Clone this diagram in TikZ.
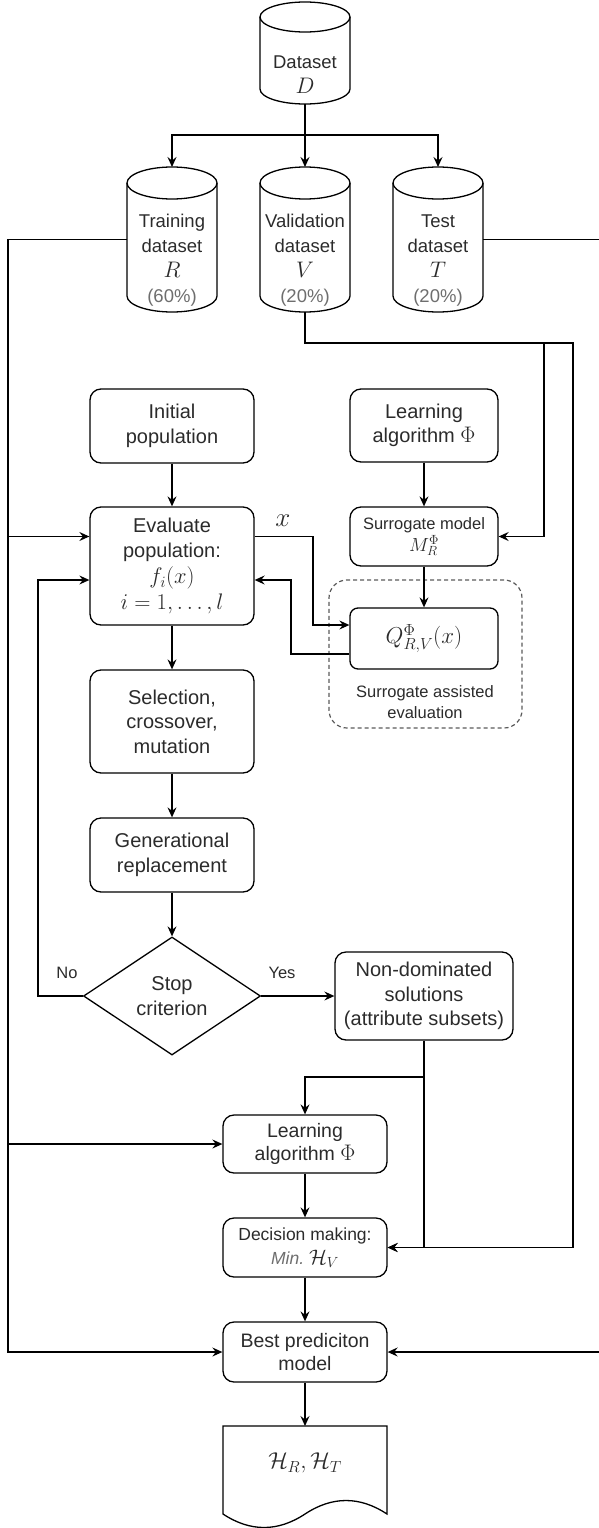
\RequirePackage{fix-cm}
\documentclass[tikz,border=0pt]{standalone}
\usepackage{fontspec}
\setmainfont{Liberation Sans}
\usetikzlibrary{arrows.meta,shapes.geometric,calc}
\definecolor{txt}{HTML}{2B2B2B}
\definecolor{pct}{HTML}{6E6E6E}
\definecolor{dashc}{HTML}{5A5A5A}
\newcommand\fmain{\fontsize{20}{24.5}\selectfont}
\newcommand\fmid{\fontsize{17.5}{21.5}\selectfont}
\newcommand\fsml{\fontsize{16.5}{21}\selectfont}
\newcommand\fcyl{\fontsize{18.5}{25}\selectfont}
\newcommand\mymath[1]{{\fontsize{22.5}{25}\selectfont$#1$}}
\newcommand\cylout[3]{%
  \draw ($(#1.north west)+(0,#3)$) -- ($(#1.south west)+(0,-#3)$)
     arc[start angle=180,end angle=360,x radius=#2pt,y radius=#3pt] -- ($(#1.north east)+(0,#3)$);
  \draw ($(#1.north)+(0,#3)$) ellipse[x radius=#2pt,y radius=#3pt];}
\begin{document}
\begin{tikzpicture}[x=1pt,y=-1pt, line width=1.3pt,
  every node/.style={text=txt, align=center, inner sep=0pt},
  box/.style={draw=black, rounded corners=11pt, minimum width=164pt, font=\fmain},
  cylnode/.style={minimum width=90pt, outer sep=0pt},
  arr/.style={-{Stealth[length=10pt,width=9pt,inset=3.5pt]}}]
\useasboundingbox (0,0) rectangle (598,1528);

% cylinders
\node[cylnode, minimum height=102pt] (D) at (305,53) {};
\node[cylnode, minimum height=145pt] (R) at (172,239.5) {};
\node[cylnode, minimum height=145pt] (V) at (305,239.5) {};
\node[cylnode, minimum height=145pt] (T) at (438,239.5) {};
\cylout{D}{45}{15}
\cylout{R}{45}{16}
\cylout{V}{45}{16}
\cylout{T}{45}{16}
\node[font=\fcyl] (Dl) at (305,74.5) {Dataset\\\mymath{D}};
\node[font=\fcyl] (Rl) at (172,260.5) {Training\\dataset\\\mymath{R}\\\textcolor{pct}{(60\%)}};
\node[font=\fcyl] (Vl) at (305,260.5) {Validation\\dataset\\\mymath{V}\\\textcolor{pct}{(20\%)}};
\node[font=\fcyl] (Tl) at (438,260.5) {Test\\dataset\\\mymath{T}\\\textcolor{pct}{(20\%)}};

% boxes
\node[box, minimum height=74pt] (init) at (172,426) {Initial\\population};
\node[box, minimum height=118pt] (eval) at (172,566) {Evaluate\\population:\\[2pt]\mymath{f_i(x)}\\[1pt]\mymath{i=1,\ldots,l}};
\node[box, minimum height=103pt] (sel) at (172,721.5) {Selection,\\crossover,\\mutation};
\node[box, minimum height=74pt] (gen) at (172,855) {Generational\\replacement};
\node[diamond, draw=black, minimum width=177pt, minimum height=118pt, aspect=1.5, font=\fmain] (stop) at (172,996) {Stop\\criterion};
\node[box, minimum width=178pt, minimum height=88pt] (nondom) at (424,996) {Non-dominated\\solutions\\(attribute subsets)};
\node[box, minimum width=148pt, minimum height=73pt] (learn1) at (424,425.5) {Learning\\algorithm \mymath{\Phi}};
\node[box, minimum width=148pt, minimum height=59pt, font=\fsml] (surr) at (424,536.5) {Surrogate model\\[1pt]{\fontsize{19}{21}\selectfont$M_R^{\Phi}$}};
\node[box, minimum width=148pt, minimum height=61pt, rounded corners=8pt, font=\fontsize{23}{26}\selectfont] (Q) at (424,638.5) {$Q^{\Phi}_{R,V}(x)$};
\node[draw=dashc, line width=1.2pt, dash pattern=on 4pt off 3pt, rounded corners=18pt, minimum width=193pt, minimum height=148pt] (sae) at (425.5,654) {};
\node[font=\fsml] (saelbl) at (425,702.5) {Surrogate assisted\\evaluation};
\node[box, minimum height=58pt, font=\fontsize{19.5}{22.5}\selectfont] (learn2) at (305,1144) {Learning\\algorithm \mymath{\Phi}};
\node[box, minimum height=59pt, font=\fmid] (dec) at (305,1247.5) {Decision making:\\[3pt]\textcolor{pct}{\itshape Min.}\ {\fontsize{21}{22}\selectfont$\mathcal{H}_V$}};
\node[box, minimum height=60pt, font=\fontsize{19.5}{23}\selectfont] (best) at (305,1352) {Best prediciton\\model};
\node[minimum width=164pt, minimum height=88pt, outer sep=0pt] (doc) at (305,1470) {};
\draw (doc.south west) -- (doc.north west) -- (doc.north east) -- (doc.south east)
  .. controls ($(doc.south east)+(-27.3,-18)$) and ($(doc.south)+(27.3,-18)$) .. (doc.south)
  .. controls ($(doc.south)+(-27.3,18)$) and ($(doc.south west)+(27.3,18)$) .. (doc.south west) -- cycle;
\node[font=\fontsize{23}{26}\selectfont] (docl) at (305,1463) {$\mathcal{H}_R, \mathcal{H}_T$};

% labels
\node[font=\fsml] (yes) at (282,973) {Yes};
\node[font=\fsml] (no) at (67,973) {No};
\node[font=\fontsize{27}{27}\selectfont] (xl) at (283,521) {$x$};

% dataset split
\coordinate (sp) at (305,135);
\draw (D.south) -- (sp);
\draw[arr] (sp) -| (R.north);
\draw[arr] (sp) -- (V.north);
\draw[arr] (sp) -| (T.north);

% left bus (training)
\coordinate (lbTop) at (8,239.5);
\draw[arr] (R.west) -- (lbTop) |- (best.west);
\draw[arr] (lbTop) |- (eval.west |- surr.west);
\draw[arr] (lbTop) |- (learn2.west);

% right bus (test)
\coordinate (rbTop) at (600,239.5);
\draw[arr] (T.east) -- (rbTop) |- (best.east);

% validation bus
\coordinate (vb) at (305,343);
\coordinate (vr1) at (544,343);
\coordinate (vr2) at (573,343);
\draw[arr] (V.south) -- (vb) -- (vr2) |- (dec.east);
\draw[arr] (vr1) |- (surr.east);

% main chain
\draw[arr] (init.south) -- (eval.north);
\draw[arr] (eval.south) -- (sel.north);
\draw[arr] (sel.south) -- (gen.north);
\draw[arr] (gen.south) -- (stop.north);
\draw[arr] (learn1.south) -- (surr.north);
\draw[arr] (surr.south) -- (Q.north);
\draw[arr] (stop.east) -- (nondom.west);
\draw[arr] (learn2.south) -- (dec.north);
\draw[arr] (dec.south) -- (best.north);
\draw[arr] (best.south) -- (doc.north);

% no loop
\coordinate (noL) at (38,996);
\draw[arr] (stop.west) -- (noL) |- ($(eval.west)+(0,14)$);

% x to surrogate evaluation and back
\coordinate (xc) at (313,536.5);
\draw[arr] (eval.east |- surr.west) -- (xc) |- ($(Q.west)+(0,-13.5)$);
\coordinate (rc) at (291,654);
\draw[arr] ($(Q.west)+(0,15.5)$) -- (rc) |- ($(eval.east)+(0,14)$);

% non-dominated to learning / decision
\coordinate (nd) at (424,1077);
\draw (nondom.south) -- (nd);
\draw[arr] (nd) |- (dec.east);
\draw[arr] (nd) -| (learn2.north);
\end{tikzpicture}
\end{document}
